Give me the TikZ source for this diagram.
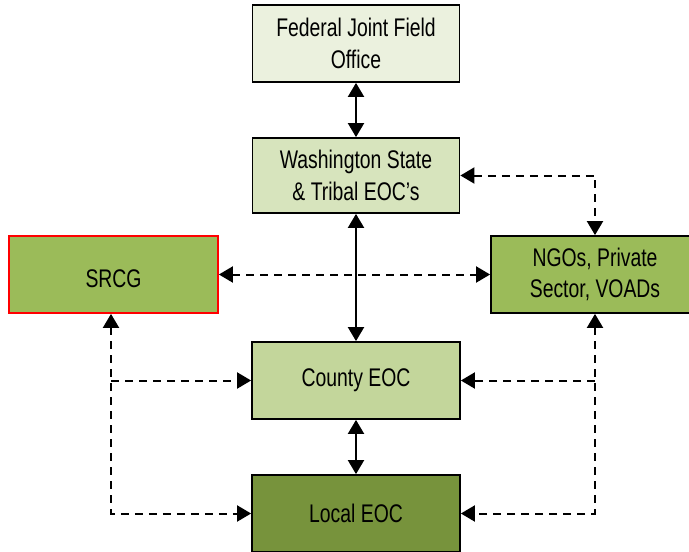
\documentclass[tikz,border=0pt]{standalone}
\usepackage{fontspec}
\setmainfont{Liberation Sans}[FakeStretch=0.76]
\usetikzlibrary{arrows.meta}
\definecolor{c1}{HTML}{EBF1DE}
\definecolor{c2}{HTML}{D7E4BD}
\definecolor{c3}{HTML}{C3D69B}
\definecolor{c4}{HTML}{9BBB59}
\definecolor{c5}{HTML}{77933C}
\begin{document}
\begin{tikzpicture}[x=1pt,y=1pt,
  box/.style={draw=black,line width=1.8pt,rectangle,minimum width=207pt,minimum height=77pt,
    align=center,font=\fontsize{25.5}{31.5}\selectfont,inner sep=0pt},
  solidarr/.style={line width=2pt,{Triangle[length=14pt,width=16pt]}-{Triangle[length=14pt,width=16pt]}},
  dasharr/.style={line width=2pt,dash pattern=on 8pt off 6pt,{Triangle[length=14pt,width=16pt]}-{Triangle[length=14pt,width=16pt]}},
  dashend/.style={line width=2pt,dash pattern=on 8pt off 6pt,-{Triangle[length=14pt,width=16pt]}}]
\useasboundingbox (0,0) rectangle (689,-552);
\node[box,fill=c1] (fed) at (356,-43.5) {Federal Joint Field\\Office};
\node[box,fill=c2,minimum height=75pt] (wash) at (356,-175.5) {Washington State\\\& Tribal EOC’s};
\node[box,fill=c4,draw=red,minimum width=209pt,text height=25pt,text depth=0pt] (srcg) at (113.5,-274.5) {SRCG};
\node[box,fill=c4,minimum width=208pt] (ngo) at (595,-274.5) {NGOs, Private\\Sector, VOADs};
\node[box,fill=c3,minimum width=208pt] (county) at (356,-380.5) {County EOC};
\node[box,fill=c5,minimum width=208pt] (local) at (356,-513.5) {Local EOC};
\draw[solidarr] (fed.south) -- (wash.north);
\draw[solidarr] (wash.south) -- (county.north);
\draw[solidarr] (county.south) -- (local.north);
\draw[dasharr] (srcg.east) -- (ngo.west);
\draw[dasharr] (wash.east) -| (ngo.north);
\draw[dasharr] ([xshift=-2.5pt]srcg.south) |- (local.west);
\coordinate (lb) at ([xshift=-2.5pt]srcg.south |- county.west);
\draw[dashend] (lb) -- (county.west);
\draw[dasharr] (ngo.south) |- (local.east);
\coordinate (rb) at (ngo.south |- county.east);
\draw[dashend] (rb) -- (county.east);
\end{tikzpicture}
\end{document}
